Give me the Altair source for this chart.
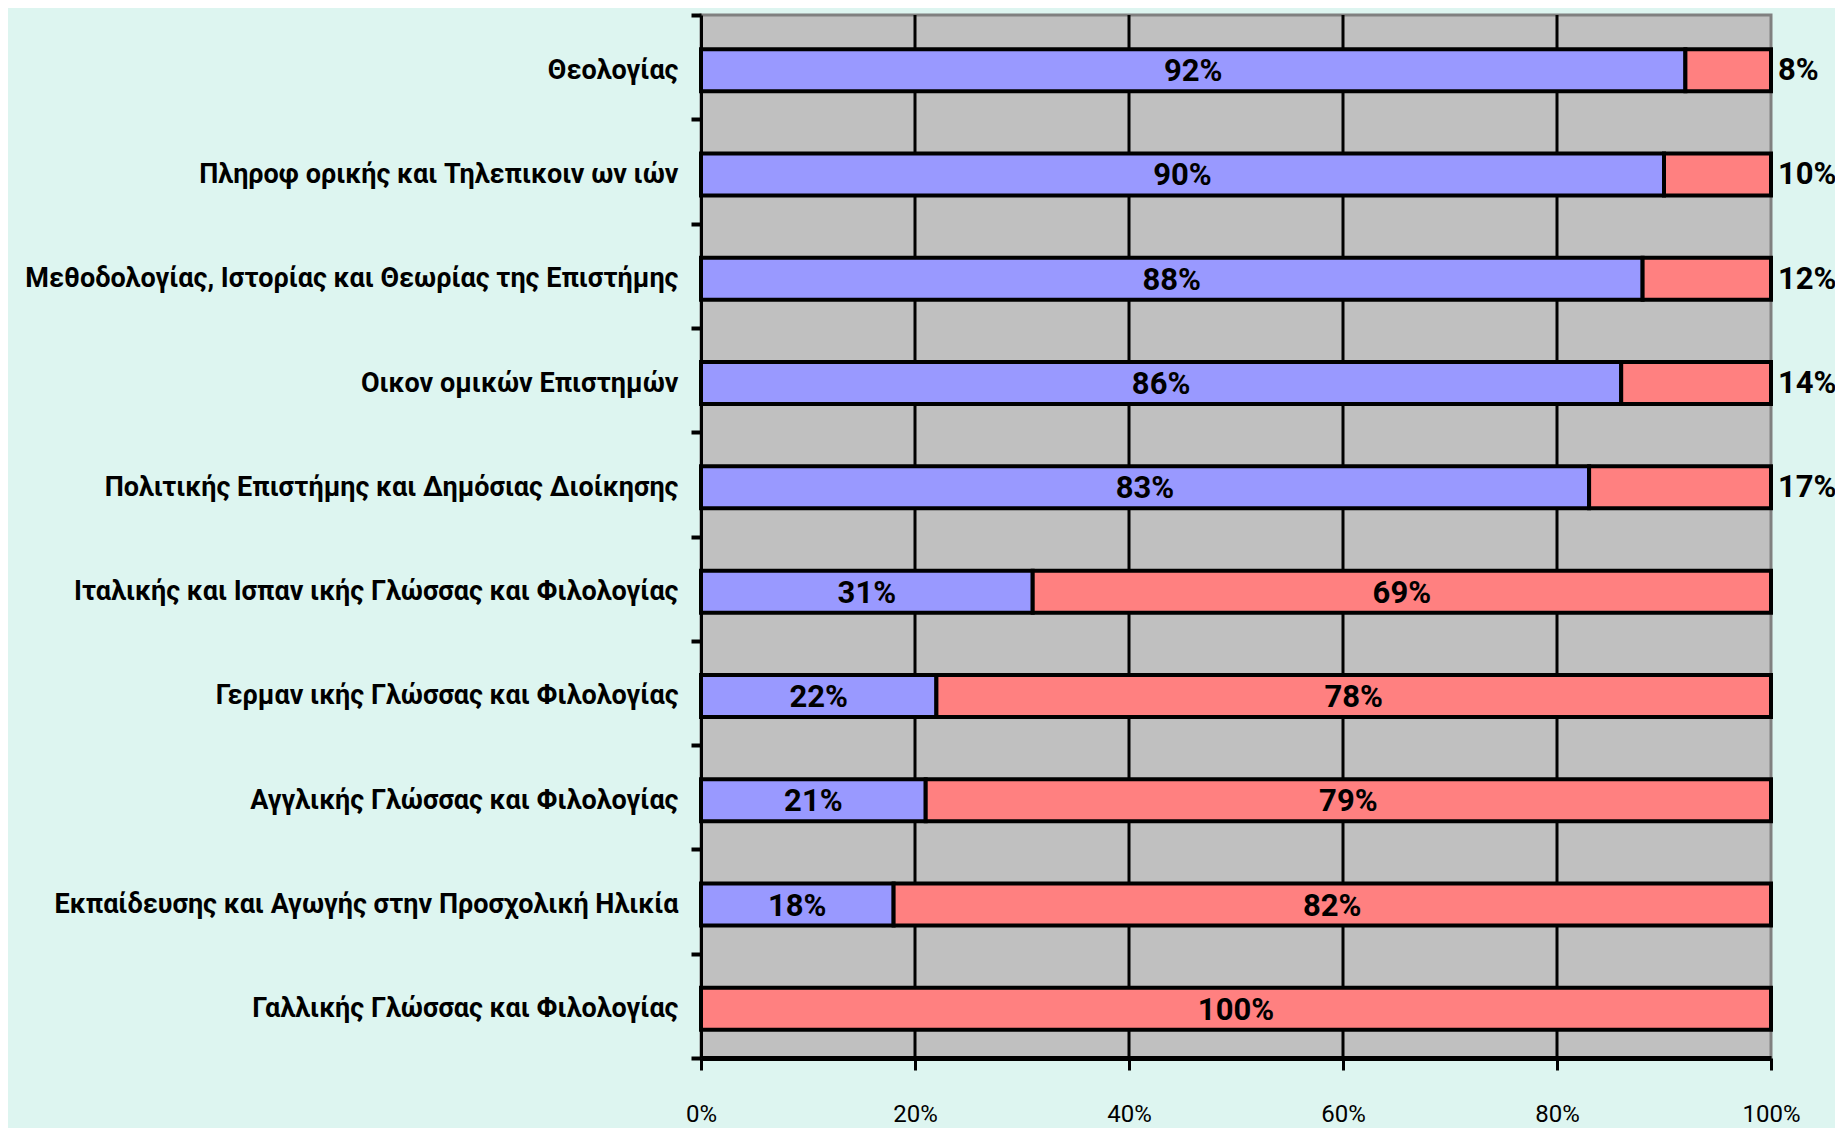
import altair as alt
import pandas as pd

categories = [
    "Θεολογίας",
    "Πληροφ ορικής και Τηλεπικοιν ων ιών",
    "Μεθοδολογίας, Ιστορίας και Θεωρίας της Επιστήμης",
    "Οικον ομικών Επιστημών",
    "Πολιτικής Επιστήμης και Δημόσιας Διοίκησης",
    "Ιταλικής και Ισπαν ικής Γλώσσας και Φιλολογίας",
    "Γερμαν ικής Γλώσσας και Φιλολογίας",
    "Αγγλικής Γλώσσας και Φιλολογίας",
    "Εκπαίδευσης και Αγωγής στην Προσχολική Ηλικία",
    "Γαλλικής Γλώσσας και Φιλολογίας",
]
blue_values = [92, 90, 88, 86, 83, 31, 22, 21, 18, 0]
red_values = [8, 10, 12, 14, 17, 69, 78, 79, 82, 100]
x_ticks = [0, 20, 40, 60, 80, 100]
grid_values = [20, 40, 60, 80]

FONT = "Roboto"
BLUE = "#9999FF"
RED = "#FF8080"

rows = []
for cat, b, r in zip(categories, blue_values, red_values):
    rows.append({"cat": cat, "series": "A", "start": 0, "end": b, "value": b})
    rows.append({"cat": cat, "series": "B", "start": b, "end": b + r, "value": r})
df = pd.DataFrame(rows)
df["mid"] = (df["start"] + df["end"]) / 2
df["label"] = df["value"].astype(str) + "%"
df["outside"] = (df["series"] == "B") & (df["value"] < 20) & (df["start"] > 0)
df["edge"] = 100

bars_df = df[df["value"] > 0]
inside_df = df[(df["value"] > 0) & (~df["outside"])]
outside_df = df[df["outside"]]

xscale = alt.Scale(domain=[0, 100], nice=False, zero=True)
yscale = alt.Scale(domain=categories, paddingInner=0, paddingOuter=0)

y_axis = alt.Axis(
    title=None,
    domain=True, domainColor="black", domainWidth=3,
    ticks=True, tickColor="black", tickWidth=4, tickSize=10, tickBand="extent",
    labelFont=FONT, labelFontSize=27, labelFontWeight="bold", labelColor="black",
    labelPadding=13, labelLimit=1000, labelOffset=3, grid=False,
)
x_axis = alt.Axis(
    title=None, values=x_ticks, labelExpr="datum.value + '%'",
    domain=True, domainColor="black", domainWidth=5,
    ticks=True, tickColor="black", tickWidth=3, tickSize=12,
    labelFont=FONT, labelFontSize=24, labelColor="black", labelPadding=32,
    labelFlush=False, labelBaseline="top", grid=False,
)

grid = alt.Chart(pd.DataFrame({"v": grid_values})).mark_rule(
    color="black", strokeWidth=3
).encode(x=alt.X("v:Q", scale=xscale, axis=x_axis))

bars = alt.Chart(bars_df).mark_bar(
    stroke="black", strokeWidth=4, size=42, yOffset=3
).encode(
    y=alt.Y("cat:N", sort=categories, scale=yscale, axis=y_axis),
    x=alt.X("start:Q", scale=xscale, axis=x_axis),
    x2="end:Q",
    color=alt.Color("series:N", scale=alt.Scale(domain=["A", "B"], range=[BLUE, RED]), legend=None),
)

inside = alt.Chart(inside_df).mark_text(
    font=FONT, fontSize=31, fontWeight="bold", color="black",
    align="center", baseline="middle", yOffset=5,
).encode(
    y=alt.Y("cat:N", sort=categories, scale=yscale, axis=y_axis),
    x=alt.X("mid:Q", scale=xscale, axis=x_axis),
    text="label:N",
)

outside = alt.Chart(outside_df).mark_text(
    font=FONT, fontSize=31, fontWeight="bold", color="black",
    align="left", baseline="middle", dx=7, yOffset=4,
).encode(
    y=alt.Y("cat:N", sort=categories, scale=yscale, axis=y_axis),
    x=alt.X("edge:Q", scale=xscale, axis=x_axis),
    text="label:N",
)

chart = alt.layer(grid, bars, inside, outside).properties(
    width=1070, height=1043,
    autosize=alt.AutoSizeParams(type="none"),
    padding={"left": 693, "top": 7, "right": 64, "bottom": 70},
    background="#DDF5F0",
).configure_view(
    fill="#C0C0C0", stroke="#808080", strokeWidth=3,
)

chart.save("out.html", embed_options={"renderer": "svg", "actions": False})
